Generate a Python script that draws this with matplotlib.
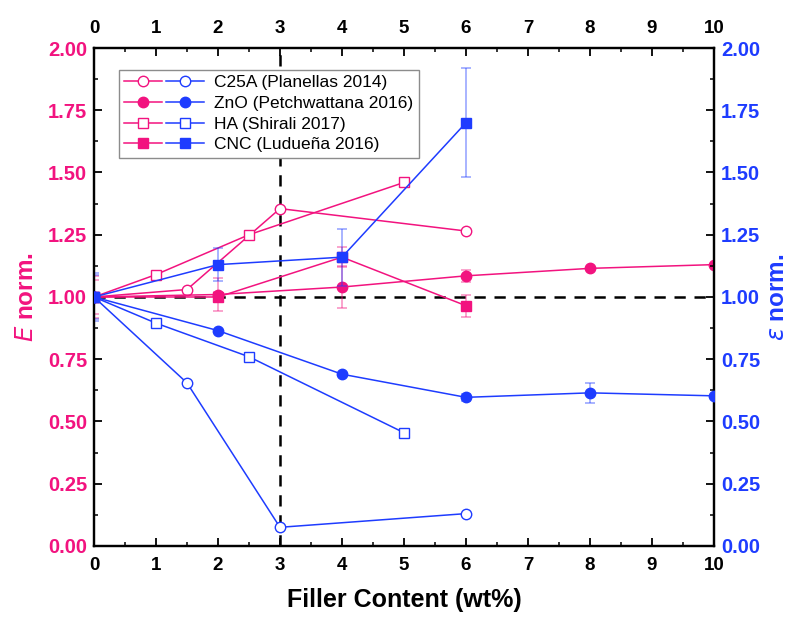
import matplotlib
matplotlib.use("Agg")
import matplotlib.pyplot as plt
from matplotlib.colors import to_rgba
from matplotlib.legend_handler import HandlerTuple
from matplotlib.lines import Line2D
from matplotlib.ticker import MultipleLocator, FormatStrFormatter

PINK = "#F2137F"
BLUE = "#1E3CFF"

# C25A (Planellas 2014)
c25a_x = [0, 1.5, 3, 6]
c25a_E = [1.00, 1.03, 1.355, 1.265]
c25a_eps = [1.00, 0.655, 0.075, 0.13]

# ZnO (Petchwattana 2016)
zno_x = [0, 2, 4, 6, 8, 10]
zno_E = [1.00, 1.01, 1.04, 1.085, 1.115, 1.13]
zno_E_err = [0.085, 0.065, 0.085, 0.025, 0.0, 0.0]
zno_eps = [1.00, 0.865, 0.69, 0.597, 0.615, 0.603]
zno_eps_err = [0.095, 0.0, 0.0, 0.015, 0.04, 0.0]

# HA (Shirali 2017)
ha_x = [0, 1, 2.5, 5]
ha_E = [1.00, 1.09, 1.25, 1.46]
ha_eps = [1.00, 0.895, 0.76, 0.455]

# CNC (Ludueña 2016)
cnc_x = [0, 2, 4, 6]
cnc_E = [1.00, 1.00, 1.16, 0.965]
cnc_E_err = [0.07, 0.02, 0.04, 0.045]
cnc_eps = [1.00, 1.13, 1.16, 1.70]
cnc_eps_err = [0.09, 0.065, 0.115, 0.22]

labels = ["C25A (Planellas 2014)", "ZnO (Petchwattana 2016)",
          "HA (Shirali 2017)", "CNC (Ludueña 2016)"]
markers = ["o", "o", "s", "s"]
filled = [False, True, False, True]

plt.rcParams["font.family"] = ["Liberation Sans", "DejaVu Sans"]

fig = plt.figure(figsize=(7.95, 6.21), dpi=100)
ax = fig.add_axes([0.1182, 0.1208, 0.7799, 0.8019])
ax2 = ax.twinx()

MS = 7.5
LW = 1.1


def draw(axis, x, y, color, marker, full, yerr=None):
    face = color if full else "white"
    if yerr is not None:
        axis.errorbar(x, y, yerr=yerr, fmt="none", ecolor=to_rgba(color, 0.45),
                      elinewidth=1.2, capsize=3.5, capthick=1.2, zorder=2)
    axis.plot(x, y, color=color, lw=LW, marker=marker, ms=MS,
              mfc=face, mec=color, mew=1.0, zorder=3)


# E norm. on the left axis (pink)
draw(ax, c25a_x, c25a_E, PINK, "o", False)
draw(ax, zno_x, zno_E, PINK, "o", True, zno_E_err)
draw(ax, ha_x, ha_E, PINK, "s", False)
draw(ax, cnc_x, cnc_E, PINK, "s", True, cnc_E_err)

# strain norm. on the right axis (blue)
draw(ax2, c25a_x, c25a_eps, BLUE, "o", False)
draw(ax2, zno_x, zno_eps, BLUE, "o", True, zno_eps_err)
draw(ax2, ha_x, ha_eps, BLUE, "s", False)
draw(ax2, cnc_x, cnc_eps, BLUE, "s", True, cnc_eps_err)

# reference lines
ax.axhline(1.0, color="black", lw=1.8, ls=(0, (4.5, 3.5)), zorder=1)
ax.axvline(3.0, color="black", lw=1.8, ls=(0, (4.5, 3.5)), zorder=1)

for a in (ax, ax2):
    a.set_xlim(0, 10)
    a.set_ylim(0, 2)
    a.yaxis.set_major_locator(MultipleLocator(0.25))
    a.yaxis.set_minor_locator(MultipleLocator(0.125))
    a.yaxis.set_major_formatter(FormatStrFormatter("%.2f"))
    for s in a.spines.values():
        s.set_linewidth(1.6)

ax.xaxis.set_major_locator(MultipleLocator(1))
ax.xaxis.set_minor_locator(MultipleLocator(0.5))
ax.tick_params(axis="both", which="major", direction="in", length=6, width=1.3)
ax.tick_params(axis="both", which="minor", direction="in", length=3, width=1.1)
ax.tick_params(axis="x", which="both", top=True, labeltop=True)
ax.tick_params(axis="x", which="major", pad=8, labelsize=13.5)
ax.tick_params(axis="y", right=False, pad=5, labelcolor=PINK, labelsize=14.5)
ax2.tick_params(axis="y", which="major", direction="in", length=6, width=1.3,
                pad=5, labelcolor=BLUE, labelsize=14.5)
ax2.tick_params(axis="y", which="minor", direction="in", length=3, width=1.1)

for t in ax.xaxis.get_major_ticks():
    t.label1.set_fontweight("bold")
    t.label2.set_fontweight("bold")
for a in (ax, ax2):
    for lab in a.get_yticklabels():
        lab.set_fontweight("bold")

ax.set_xlabel("Filler Content (wt%)", fontsize=18, fontweight="bold", labelpad=10)
ax.set_ylabel(r"$\bf{\it{E}}$ norm.", fontsize=17.5, fontweight="bold",
              color=PINK, labelpad=7)
ax2.set_ylabel(r"$\bf{\it{\varepsilon}}$ norm.", fontsize=17.5, fontweight="bold",
               color=BLUE, rotation=90, labelpad=4)

# legend: pink and blue sample side by side for each filler
handles = []
for m, f in zip(markers, filled):
    pair = tuple(Line2D([], [], color=c, lw=LW, marker=m, ms=MS,
                        mfc=(c if f else "white"), mec=c, mew=1.0)
                 for c in (PINK, BLUE))
    handles.append(pair)
leg = ax2.legend(handles, labels, handler_map={tuple: HandlerTuple(ndivide=None, pad=0.2)},
                 loc="upper left", bbox_to_anchor=(0.04, 0.956), borderaxespad=0,
                 fontsize=12.5, handlelength=4.6, handletextpad=0.6,
                 labelspacing=0.32, borderpad=0.3, fancybox=False,
                 edgecolor="#8c8c8c", framealpha=1)
leg.get_frame().set_linewidth(1.0)

fig.savefig("out.png", dpi=100)
